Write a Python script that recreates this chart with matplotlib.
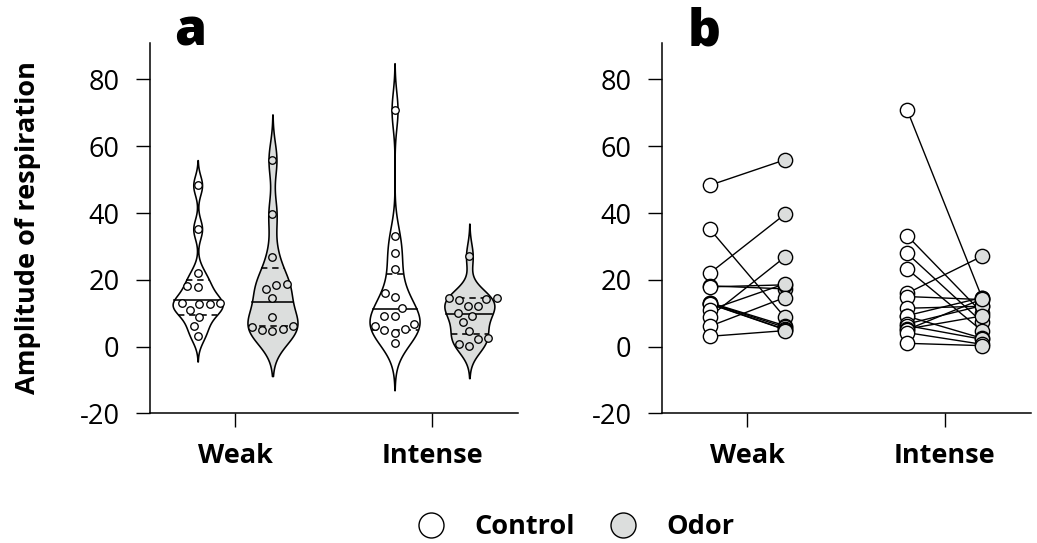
import numpy as np
import matplotlib
matplotlib.use('Agg')
import matplotlib.pyplot as plt
from matplotlib.lines import Line2D

plt.rcParams['font.family'] = ['Open Sans', 'DejaVu Sans']
plt.rcParams['axes.unicode_minus'] = False

categories = ['Weak', 'Intense']
conditions = ['Control', 'Odor']

# paired values (same animal = same index in control / odor)
weak_control = [48.3, 35.2, 22.0, 18.2, 17.9, 13.2, 13.1, 12.9, 12.8, 11.0, 9.0, 6.1, 3.1]
weak_odor = [55.9, 8.8, 39.6, 17.3, 18.5, 6.3, 5.8, 5.2, 5.1, 18.8, 26.8, 14.7, 4.8]
intense_control = [70.8, 33.2, 27.9, 23.2, 16.0, 15.0, 11.5, 9.3, 9.1, 6.8, 6.3, 5.3, 5.1, 4.2, 1.0]
intense_odor = [14.5, 10.1, 7.3, 4.7, 27.1, 14.1, 12.1, 14.7, 2.5, 12.3, 2.2, 9.2, 14.3, 0.7, 0.3]

yticks = [-20, 0, 20, 40, 60, 80]

data = {('Weak', 'Control'): weak_control, ('Weak', 'Odor'): weak_odor,
        ('Intense', 'Control'): intense_control, ('Intense', 'Odor'): intense_odor}
fills = {'Control': 'white', 'Odor': '#dcdedd'}
offs = {'Control': -0.19, 'Odor': 0.19}
HALF_W = 0.127
FS = 19.5


def bw_nrd0(vals):
    v = np.asarray(vals)
    q1, q3 = np.percentile(v, [25, 75])
    s = min(v.std(ddof=1), (q3 - q1) / 1.34)
    return 0.9 * s * len(v) ** -0.2


def violin(ax, vals, pos, color):
    v = np.asarray(vals)
    bw = bw_nrd0(v)
    grid = np.linspace(v.min() - 2.6 * bw, v.max() + 2.6 * bw, 500)
    dens = np.exp(-0.5 * ((grid[None, :] - v[:, None]) / bw) ** 2).sum(0)
    w = dens / dens.max() * HALF_W
    ax.fill_betweenx(grid, pos - w, pos + w, facecolor=color, edgecolor='black',
                     lw=1.15, zorder=2)
    cdf = np.cumsum(dens)
    cdf = cdf / cdf[-1]
    for q in [0.25, 0.5, 0.75]:
        y = np.interp(q, cdf, grid)
        hw = np.interp(y, grid, w)
        ls = '-' if q == 0.5 else (0, (4, 3))
        ax.plot([pos - hw, pos + hw], [y, y], color='black', lw=1.15, ls=ls, zorder=3)


def swarm(ax, vals, pos, color, dist=10.5):
    # simple beeswarm in pixel space, nearest free spot to the centre
    tr = ax.transData
    v = np.asarray(vals)
    cx = tr.transform((pos, 0))[0]
    placed = []
    xs = np.zeros(len(v))
    steps = np.arange(0, 80, 0.25)
    for i in np.argsort(v):
        py = tr.transform((pos, v[i]))[1]
        for s in steps:
            ok = None
            for cand in ([cx] if s == 0 else [cx - s, cx + s]):
                if all((cand - a) ** 2 + (py - b) ** 2 >= dist ** 2 for a, b in placed):
                    ok = cand
                    break
            if ok is not None:
                break
        placed.append((ok, py))
        xs[i] = tr.inverted().transform((ok, py))[0]
    ax.plot(xs, v, 'o', ms=5.4, mfc=color, mec='black', mew=0.95, ls='none', zorder=4)


fig = plt.figure(figsize=(10.37, 5.43), dpi=100)
ax_a = fig.add_axes([150 / 1037, 0.2385, 368 / 1037, 0.6818])
ax_b = fig.add_axes([662 / 1037, 0.2385, 369 / 1037, 0.6818])

for ax in (ax_a, ax_b):
    ax.set_xlim(-0.432, 1.437)
    ax.set_ylim(-20, 90.8)
    ax.set_yticks(yticks)
    ax.set_xticks(range(len(categories)))
    ax.set_xticklabels(categories, fontsize=FS, fontweight='bold')
    ax.tick_params(axis='y', labelsize=FS, length=10, width=1.0, pad=12)
    ax.tick_params(axis='x', length=10, width=1.0, pad=11)
    for s in ['top', 'right']:
        ax.spines[s].set_visible(False)
    for s in ['left', 'bottom']:
        ax.spines[s].set_linewidth(1.1)

# panel a: violins with swarm
for i, cat in enumerate(categories):
    for cond in conditions:
        violin(ax_a, data[(cat, cond)], i + offs[cond], fills[cond])
for i, cat in enumerate(categories):
    for cond in conditions:
        swarm(ax_a, data[(cat, cond)], i + offs[cond], fills[cond])

# panel b: paired lines
for i, cat in enumerate(categories):
    ctrl = data[(cat, 'Control')]
    odor = data[(cat, 'Odor')]
    for c, o in zip(ctrl, odor):
        ax_b.plot([i + offs['Control'], i + offs['Odor']], [c, o], color='black',
                  lw=1.0, zorder=2)
    ax_b.plot([i + offs['Control']] * len(ctrl), ctrl, 'o', ms=10.3, mfc='white',
              mec='black', mew=1.0, ls='none', zorder=3)
    ax_b.plot([i + offs['Odor']] * len(odor), odor, 'o', ms=10.3, mfc=fills['Odor'],
              mec='black', mew=1.0, ls='none', zorder=3)

fig.text(28 / 1037, 1 - 228 / 543, 'Amplitude of respiration', rotation=90,
         ha='center', va='center', fontsize=FS, fontweight='bold')
fig.text(174 / 1037, 1 - 45 / 543, 'a', fontsize=37, fontweight='heavy', va='baseline')
fig.text(688 / 1037, 1 - 45 / 543, 'b', fontsize=37, fontweight='heavy', va='baseline')

handles = [Line2D([], [], marker='o', ls='none', ms=18, mfc=fills[c], mec='black',
                  mew=1.0, label=c) for c in conditions]
leg = fig.legend(handles=handles, loc='center', bbox_to_anchor=(0.549, 1 - 527 / 543),
                 ncol=2, frameon=False, handletextpad=0.6, columnspacing=0.8,
                 prop={'size': FS, 'weight': 'bold'})

fig.savefig('out.png', dpi=100)
